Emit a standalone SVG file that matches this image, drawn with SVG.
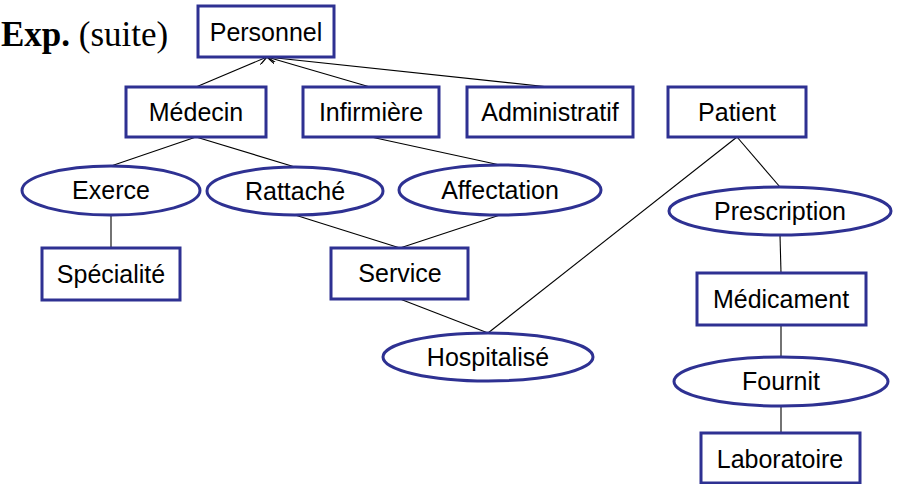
<svg xmlns="http://www.w3.org/2000/svg" width="901" height="484" viewBox="0 0 901 484">
  <style>
    .box { fill: #ffffff; stroke: #2e3192; stroke-width: 3; }
    .rel { fill: #ffffff; stroke: #2e3192; stroke-width: 3; }
    .lbl { font-family: "Liberation Sans", Arial, sans-serif; font-size: 25px; fill: #000000; text-anchor: middle; }
    .link { stroke: #000000; stroke-width: 1.1; fill: none; }
    .title { font-family: "Liberation Serif", "Times New Roman", serif; font-size: 35px; fill: #000000; }
  </style>
  <defs>
    <marker id="openArrow" viewBox="0 0 10 10" refX="10" refY="5" markerWidth="9" markerHeight="9" markerUnits="userSpaceOnUse" orient="auto">
      <path d="M0,0 L10,5 L0,10" fill="none" stroke="#000000" stroke-width="1.4"/>
    </marker>
  </defs>

  <rect width="901" height="484" fill="#ffffff"/>

  <text class="title" x="1" y="46"><tspan font-weight="bold">Exp.</tspan> (suite)</text>

  <g id="connectors">
    <!-- inheritance links to Personnel -->
    <line class="link" x1="196" y1="87" x2="267" y2="57" marker-end="url(#openArrow)"/>
    <line class="link" x1="370" y1="87" x2="267" y2="57" marker-end="url(#openArrow)"/>
    <line class="link" x1="549" y1="87" x2="267" y2="57" marker-end="url(#openArrow)"/>
    <!-- Médecin associations -->
    <line class="link" x1="196" y1="137" x2="111" y2="166"/>
    <line class="link" x1="196" y1="137" x2="295" y2="167"/>
    <line class="link" x1="111" y1="215" x2="111" y2="248"/>
    <!-- Infirmière / Service -->
    <line class="link" x1="371" y1="137" x2="500" y2="165"/>
    <line class="link" x1="295" y1="215" x2="400" y2="248"/>
    <line class="link" x1="500" y1="215" x2="400" y2="248"/>
    <line class="link" x1="400" y1="299" x2="488" y2="333"/>
    <!-- Patient -->
    <line class="link" x1="737" y1="137" x2="488" y2="333"/>
    <line class="link" x1="737" y1="137" x2="780" y2="187"/>
    <line class="link" x1="780" y1="235" x2="781" y2="273"/>
    <line class="link" x1="781" y1="325" x2="781" y2="357"/>
    <line class="link" x1="781" y1="406" x2="781" y2="433"/>
  </g>

  <g id="personnel">
    <rect class="box" x="198" y="6" width="136" height="51"/>
    <text class="lbl" x="266" y="41">Personnel</text>
  </g>
  <g id="medecin">
    <rect class="box" x="126" y="87" width="140" height="50"/>
    <text class="lbl" x="196" y="121">Médecin</text>
  </g>
  <g id="infirmiere">
    <rect class="box" x="303" y="87" width="136" height="50"/>
    <text class="lbl" x="371" y="121">Infirmière</text>
  </g>
  <g id="administratif">
    <rect class="box" x="467" y="87" width="166" height="50"/>
    <text class="lbl" x="550" y="121">Administratif</text>
  </g>
  <g id="patient">
    <rect class="box" x="668" y="87" width="138" height="50"/>
    <text class="lbl" x="737" y="121">Patient</text>
  </g>

  <g id="exerce">
    <ellipse class="rel" cx="111" cy="190.5" rx="89" ry="24.5"/>
    <text class="lbl" x="111" y="199">Exerce</text>
  </g>
  <g id="rattache">
    <ellipse class="rel" cx="295" cy="191" rx="88" ry="24"/>
    <text class="lbl" x="295" y="200">Rattaché</text>
  </g>
  <g id="affectation">
    <ellipse class="rel" cx="500" cy="190" rx="101" ry="25"/>
    <text class="lbl" x="500" y="199">Affectation</text>
  </g>
  <g id="prescription">
    <ellipse class="rel" cx="780" cy="211" rx="111" ry="24"/>
    <text class="lbl" x="780" y="220">Prescription</text>
  </g>

  <g id="specialite">
    <rect class="box" x="42" y="248" width="138" height="52"/>
    <text class="lbl" x="111" y="283">Spécialité</text>
  </g>
  <g id="service">
    <rect class="box" x="331" y="248" width="137" height="51"/>
    <text class="lbl" x="400" y="282">Service</text>
  </g>
  <g id="medicament">
    <rect class="box" x="697" y="273" width="169" height="52"/>
    <text class="lbl" x="781" y="308">Médicament</text>
  </g>

  <g id="hospitalise">
    <ellipse class="rel" cx="488" cy="357" rx="105" ry="24"/>
    <text class="lbl" x="488" y="366">Hospitalisé</text>
  </g>
  <g id="fournit">
    <ellipse class="rel" cx="781" cy="381.5" rx="107" ry="24.5"/>
    <text class="lbl" x="781" y="390">Fournit</text>
  </g>
  <g id="laboratoire">
    <rect class="box" x="701" y="433" width="159" height="50"/>
    <text class="lbl" x="780" y="468">Laboratoire</text>
  </g>
</svg>
